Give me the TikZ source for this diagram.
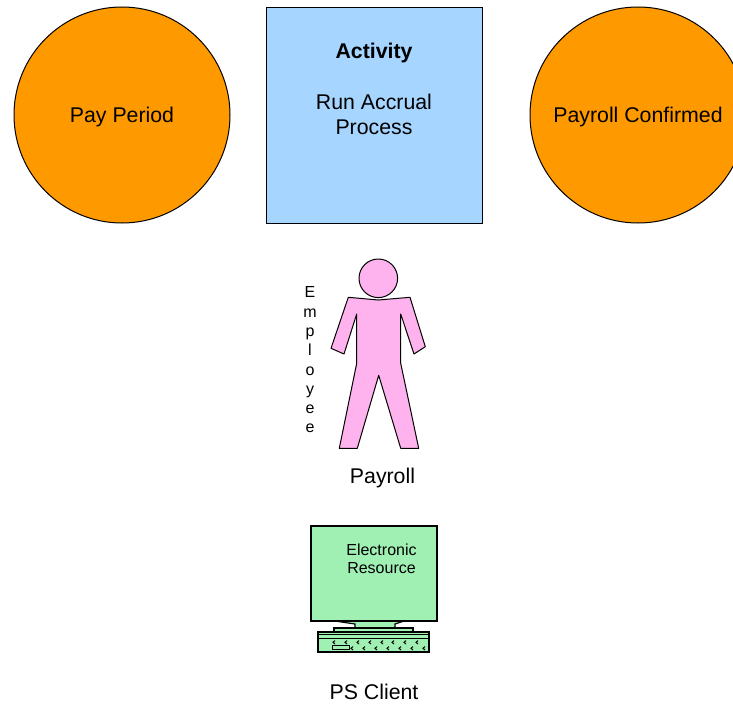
\documentclass[tikz,border=0pt]{standalone}
\usepackage{fontspec}
\setmainfont{Liberation Sans}
\usetikzlibrary{shapes.geometric}
\definecolor{eventorange}{HTML}{FF9900}
\definecolor{activityblue}{HTML}{A6D5FF}
\definecolor{rolepink}{HTML}{FFB3EE}
\definecolor{resourcegreen}{HTML}{A0F0B4}
\tikzstyle{biglabel} = [inner sep=0pt, align=center, font=\fontsize{21.3}{25}\selectfont]
\tikzstyle{smalllabel} = [inner sep=0pt, align=center, font=\fontsize{16}{18.5}\selectfont]
\tikzstyle{event} = [circle, minimum size=216pt, inner sep=0pt, draw=black, fill=eventorange, biglabel, text height=20pt, text depth=5.4pt]
\tikzstyle{activity} = [rectangle, minimum size=216pt, inner sep=0pt, draw=black, fill=activityblue]
\tikzstyle{figure} = [draw=black, fill=rolepink, line join=round]
\tikzstyle{computer} = [draw=black, fill=resourcegreen]
\begin{document}
\begin{tikzpicture}[x=1pt, y=-1pt, line width=1pt]
          \clip (0,0) rectangle (733,704);
          \node (period) [event] at (122,115) {Pay Period}; %
          \node (box) [activity] at (374,115.6) {}; %
          \node (confirmed) [event] at (638,115) {Payroll Confirmed}; %
          \node (title) [biglabel] at (374,53) {\textbf{Activity}}; %
          \node (accrual) [biglabel] at (374,114) {Run Accrual\\Process}; %

          %% Employee
          \node (head) [circle, minimum size=38.6pt, inner sep=0pt, figure] at (378.3,278.3) {}; %
          \draw [figure] (348.3,297.3) -- (378.3,300) -- (410,297.3) -- (425.3,346.7) -- (414,354)
            -- (400.7,314) -- (400.7,363.3) -- (418.7,448.3) -- (400.7,448.3) -- (378.7,375.3)
            -- (357.3,448.3) -- (339.3,448.3) -- (356.7,363.3) -- (356.7,314) -- (344,354) -- (331,348.3) -- cycle; %
          \node (employee) [smalllabel, font=\fontsize{16}{19.3}\selectfont] at (310,360) {E\\m\\p\\l\\o\\y\\e\\e}; %
          \node (payroll) [biglabel] at (382.5,478) {Payroll}; %

          %% Computer
          \draw [computer, line width=1.2pt] (333,620.7) -- (355,624) -- (355,628) -- (395,628) -- (395,624) -- (405,620.7) -- cycle; %
          \node (monitor) [rectangle, minimum width=126pt, minimum height=95pt, inner sep=0pt, computer, line width=1.4pt] at (374,573.5) {}; %
          \node (resource) [smalllabel] at (381.5,559) {Electronic\\Resource}; %
          \draw [computer, line width=1.2pt] (334,632) rectangle (413,628); %
          \node (keyboard) [rectangle, minimum width=111pt, minimum height=20pt, inner sep=0pt, computer, line width=1.2pt] at (373.5,642) {}; %
          \draw (keyboard.west |- 0,634.7) -- (keyboard.east |- 0,634.7); %
          \draw (keyboard.west |- 0,638.5) -- (keyboard.east |- 0,638.5); %
          \draw (332,645.7) rectangle (349,649.3); %
          \foreach \x in {333,345,357,369,381,392,404,416}
            \draw (\x+2,640.6) -- (\x,642.3) -- (\x+2,644); %
          \foreach \x in {351,363,375,387,399,411,423}
            \draw (\x+2,646.6) -- (\x,648.3) -- (\x+2,650); %
          \node (client) [biglabel] at (374,692) {PS Client}; %
\end{tikzpicture}
\end{document}
